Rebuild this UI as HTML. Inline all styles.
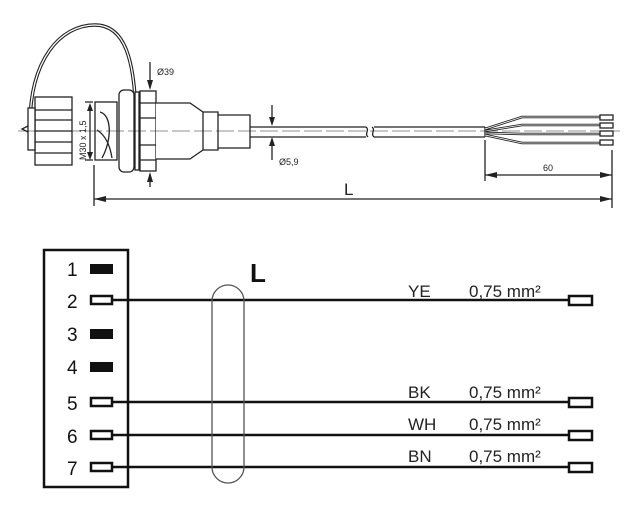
<!DOCTYPE html>
<html><head><style>body{margin:0;background:#fff}svg{display:block}</style></head><body>
<svg width="640" height="511" viewBox="0 0 640 511" xmlns="http://www.w3.org/2000/svg" font-family="Liberation Sans, sans-serif">
<g fill="none" stroke="#222" stroke-width="1.3">
<!-- cap strap -->
<path d="M30 125 C30 60 60 25 95 25 C125 25 135 60 136 120" stroke-width="3.5"/>
<path d="M30 125 C30 60 60 25 95 25 C125 25 135 60 136 120" stroke="#fff" stroke-width="1.3"/>
<!-- cap knob -->
<rect x="35" y="97" width="37" height="68" fill="#fff"/>
<path d="M35 110h37M35 120h37M35 131h37M35 142h37M35 153h37"/>
<rect x="28" y="108" width="7" height="42" fill="#fff"/>
<path d="M28 126 l-6 3 l6 3"/>
<!-- thread -->
<rect x="95" y="102" width="22" height="58" fill="#fff"/>
<path d="M100 112 C112 115 112 140 102 158 M97 130 C105 135 110 145 112 158"/>
<!-- nut -->
<rect x="119" y="90" width="15" height="82" rx="5" fill="#fff"/>
<rect x="135" y="92" width="4" height="78" fill="#fff"/>
<rect x="140" y="91" width="16" height="80" fill="#fff"/>
<path d="M140 103h16M140 118h16M140 145h16M140 160h16"/>
<!-- body -->
<path d="M156 103 H190 L203 112 H218 L218 115 H250 V148 H218 V150 H203 L190 159 H156" fill="#fff"/>
<path d="M203 112 V150 M218 115 V148"/>
<!-- cable -->
<path d="M250 127 H366 M250 137 H366 M374 127 H485 M374 137 H485 M485 127 V137"/>
<path d="M366 127 c4 3 -2 7 2 10 M372 127 c4 3 -2 7 2 10"/>
<!-- wires -->
<path d="M485 129 L522 117 H600 M485 131 L522 125 H600 M485 133 L522 134 H600 M485 135 L522 143 H600" stroke-width="2.5"/>
<path d="M485 129 L522 117 H600 M485 131 L522 125 H600 M485 133 L522 134 H600 M485 135 L522 143 H600" stroke="#fff" stroke-width="0.8"/>
<rect x="600" y="115" width="13" height="5" fill="#fff"/><rect x="600" y="123" width="13" height="5" fill="#fff"/>
<rect x="600" y="131" width="13" height="5" fill="#fff"/><rect x="600" y="140" width="13" height="5" fill="#fff"/>
<!-- center line -->
<path d="M18 131 H620" stroke-width="0.6" stroke-dasharray="18 4"/>
<!-- M30 dim -->
<path d="M90 105 V158 M85 102 h8 M85 160 h8"/>
<!-- dims -->
<path d="M94 165 V206 M485 140 V181 M612 150 V208"/>
<path d="M94 199 H612 M485 175 H612"/>
<path d="M150 62 V88 M150 174 V187 M272 105 V124 M272 139 V160"/>
</g>
<g fill="#222">
<path d="M94 199 l12 -3 v6z M612 199 l-12 -3 v6z M485 175 l12 -3 v6z M612 175 l-12 -3 v6z"/>
<path d="M150 90 l-3 -10 h6z M150 172 l-3 10 h6z M272 126 l-3 -9 h6z M272 137 l-3 9 h6z M90 103 l-3 8 h6z M90 160 l-3 -8 h6z"/>
</g>
<g font-size="9" fill="#222">
<text x="157" y="75">Ø39</text>
<text x="279" y="165">Ø5,9</text>
<text x="543" y="171">60</text>
<text x="86" y="160" transform="rotate(-90 86 160)">M30 x 1,5</text>
</g>
<text x="344" y="195" font-size="17" fill="#222">L</text>
<!-- bottom -->
<rect x="44" y="250" width="84" height="237" fill="none" stroke="#111" stroke-width="2.5"/>
<g font-size="19" fill="#111">
<text x="67" y="276">1</text><text x="67" y="308">2</text><text x="67" y="341">3</text><text x="67" y="374">4</text><text x="67" y="410">5</text><text x="67" y="443">6</text><text x="67" y="475">7</text>
</g>
<g fill="#111"><rect x="90" y="264" width="23" height="10"/><rect x="90" y="329" width="23" height="10"/><rect x="90" y="362" width="23" height="10"/></g>
<g fill="#fff" stroke="#111" stroke-width="2.5">
<rect x="91" y="296" width="21" height="8"/><rect x="91" y="398" width="21" height="8"/><rect x="91" y="431" width="21" height="8"/><rect x="91" y="463" width="21" height="8"/>
<rect x="569" y="296" width="23" height="9"/><rect x="569" y="398" width="23" height="9"/><rect x="569" y="431" width="23" height="9"/><rect x="569" y="463" width="23" height="9"/>
</g>
<g stroke="#111" stroke-width="2.5"><path d="M112 300 H569 M112 402 H569 M112 435 H569 M112 467 H569"/></g>
<rect x="212" y="285" width="32" height="198" rx="16" fill="none" stroke="#555" stroke-width="1.3"/>
<text x="250" y="282" font-size="26" font-weight="bold" fill="#111">L</text>
<g font-size="17" fill="#222">
<text x="408" y="297">YE</text><text x="469" y="297">0,75 mm²</text>
<text x="408" y="398">BK</text><text x="469" y="398">0,75 mm²</text>
<text x="408" y="430">WH</text><text x="469" y="430">0,75 mm²</text>
<text x="408" y="462">BN</text><text x="469" y="462">0,75 mm²</text>
</g>
</svg>
</body></html>
